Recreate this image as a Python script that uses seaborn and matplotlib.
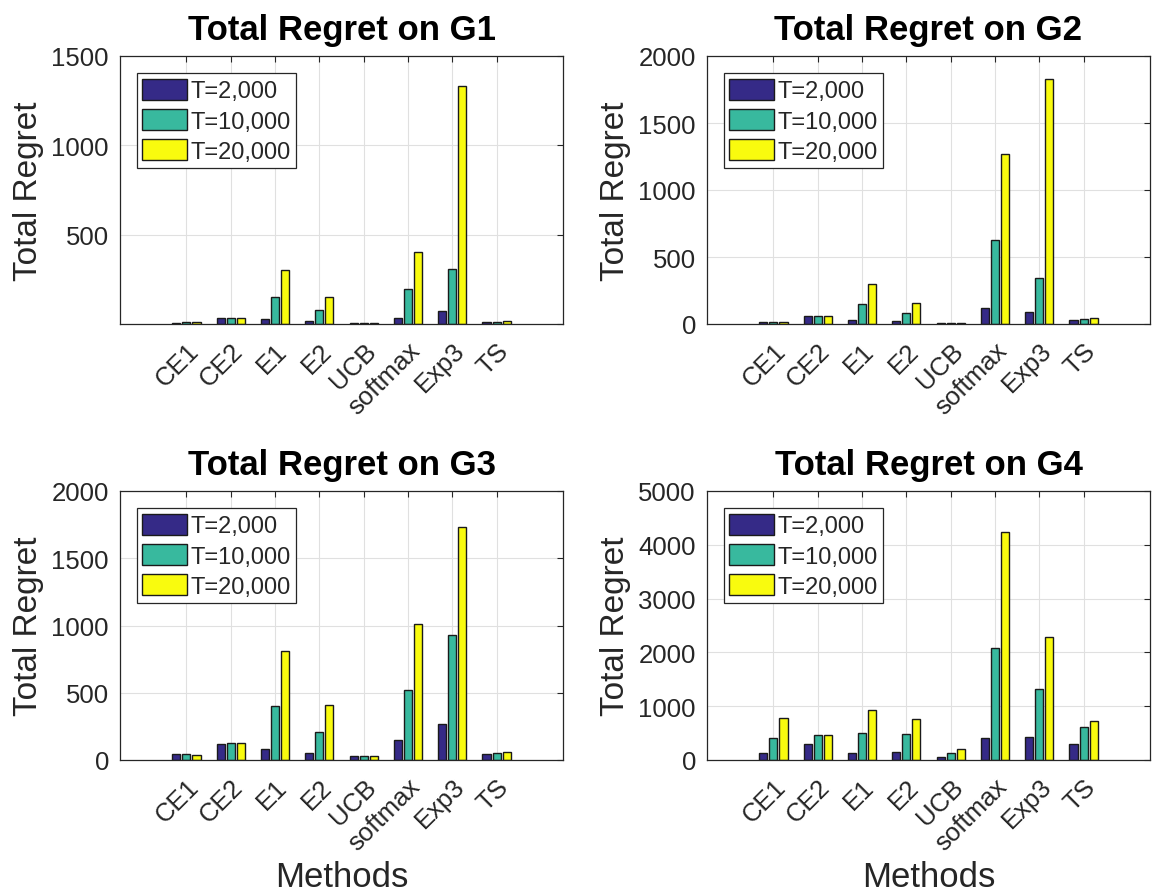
import matplotlib
matplotlib.use("Agg")
import matplotlib.pyplot as plt
import seaborn as sns
import pandas as pd

methods = ["CE1", "CE2", "E1", "E2", "UCB", "softmax", "Exp3", "TS"]
horizons = ["T=2,000", "T=10,000", "T=20,000"]

g1_t2k = [8, 32, 30, 17, 3, 35, 71, 9]
g1_t10k = [10, 32, 149, 77, 4, 197, 309, 13]
g1_t20k = [10, 32, 300, 150, 3, 401, 1334, 16]

g2_t2k = [15, 62, 32, 20, 4, 121, 91, 30]
g2_t10k = [17, 62, 151, 82, 4, 630, 345, 37]
g2_t20k = [15, 62, 300, 156, 4, 1272, 1830, 42]

g3_t2k = [42, 117, 84, 50, 27, 147, 266, 42]
g3_t10k = [42, 124, 400, 209, 30, 519, 929, 55]
g3_t20k = [40, 124, 807, 407, 32, 1011, 1734, 62]

g4_t2k = [137, 292, 124, 155, 62, 404, 435, 292]
g4_t10k = [416, 460, 509, 478, 137, 2087, 1323, 609]
g4_t20k = [776, 472, 938, 758, 211, 4229, 2279, 733]

titles = ["Total Regret on G1", "Total Regret on G2", "Total Regret on G3", "Total Regret on G4"]
yticks_list = [[0, 500, 1000, 1500], [0, 500, 1000, 1500, 2000],
               [0, 500, 1000, 1500, 2000], [0, 1000, 2000, 3000, 4000, 5000]]
ytick_labels_list = [["", "500", "1000", "1500"],
                     ["0", "500", "1000", "1500", "2000"],
                     ["0", "500", "1000", "1500", "2000"],
                     ["0", "1000", "2000", "3000", "4000", "5000"]]

data_sets = [(g1_t2k, g1_t10k, g1_t20k), (g2_t2k, g2_t10k, g2_t20k),
             (g3_t2k, g3_t10k, g3_t20k), (g4_t2k, g4_t10k, g4_t20k)]

palette = ["#352A87", "#38B99E", "#F9FB0E"]

sns.set_theme(style="white")
plt.rcParams["font.family"] = ["Liberation Sans", "DejaVu Sans"]

W, H = 1157, 895
fig = plt.figure(figsize=(W / 100, H / 100), dpi=100)

# axes boxes in pixels: left, top, right, bottom
boxes = [(120, 57, 563, 325), (707, 57, 1150, 325),
         (120, 492, 563, 761), (707, 492, 1150, 761)]

for i, (vals, box) in enumerate(zip(data_sets, boxes)):
    l, t, r, b = box
    ax = fig.add_axes([l / W, 1 - b / H, (r - l) / W, (b - t) / H])
    rows = []
    for h, series in zip(horizons, vals):
        for m, v in zip(methods, series):
            rows.append({"Method": m, "Horizon": h, "Regret": v})
    df = pd.DataFrame(rows)
    sns.barplot(data=df, x="Method", y="Regret", hue="Horizon", order=methods,
                hue_order=horizons, palette=palette, width=0.68, gap=0.2,
                edgecolor="#1a1a1a", linewidth=1.0, saturation=1, ax=ax,
                errorbar=None)
    ax.set_xlim(-1.5, 8.5)
    yt = yticks_list[i]
    ax.set_ylim(yt[0], yt[-1])
    ax.set_yticks(yt)
    ax.set_yticklabels(ytick_labels_list[i])
    ax.set_xticks(range(len(methods)))
    ax.set_xticklabels(methods, rotation=45, ha="right", rotation_mode="anchor")
    ax.tick_params(axis="both", labelsize=18.5, colors="#262626", direction="in",
                   length=4, top=True, right=True, width=0.8)
    ax.tick_params(axis="x", pad=10)
    ax.tick_params(axis="y", pad=8)
    ax.grid(True, color="#e0e0e0", linewidth=0.8)
    ax.set_axisbelow(True)
    for s in ax.spines.values():
        s.set_visible(True)
        s.set_color("#262626")
        s.set_linewidth(0.9)
    ax.set_title(titles[i], fontsize=25, fontweight="bold", color="black", pad=12)
    ax.set_ylabel("Total Regret", fontsize=24, color="#262626", labelpad=5)
    if i >= 2:
        ax.set_xlabel("Methods", fontsize=25, color="#262626", labelpad=4)
    else:
        ax.set_xlabel("")
    leg = ax.legend(loc="upper left", bbox_to_anchor=(0.038, 0.935), borderaxespad=0,
                    fontsize=17, frameon=True, fancybox=False, framealpha=1,
                    edgecolor="#262626", handlelength=1.9, handleheight=1.0,
                    handletextpad=0.15, labelspacing=0.28, borderpad=0.22,
                    title=None)
    leg.get_frame().set_linewidth(0.9)

fig.savefig("out.png", dpi=100)
